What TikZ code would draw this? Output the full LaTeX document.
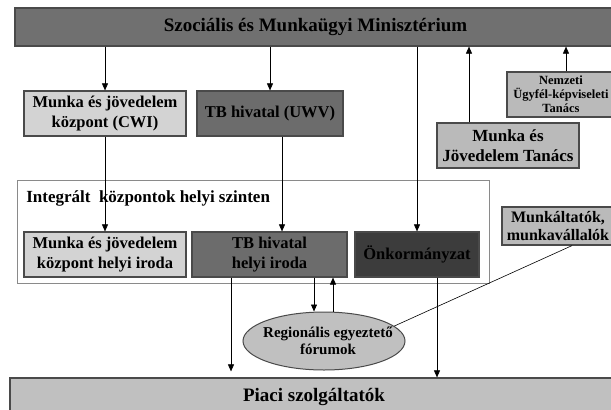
\documentclass[tikz,border=0pt]{standalone}
\usepackage{fontspec}
\setmainfont{Liberation Serif}
\usetikzlibrary{positioning,calc,arrows.meta,shapes.geometric}

\definecolor{boxline}{HTML}{4A4A4A}
\definecolor{outline}{HTML}{8A8A8A}
\definecolor{minfill}{HTML}{707070}
\definecolor{lightfill}{HTML}{D3D3D3}
\definecolor{midfill}{HTML}{6C6C6C}
\definecolor{darkfill}{HTML}{3C3C3C}
\definecolor{councilfill}{HTML}{BABABA}
\definecolor{marketfill}{HTML}{C0C0C0}

\begin{document}
\begin{tikzpicture}[x=1pt, y=-1pt, line width=0.6pt, >={Triangle[length=7pt,width=6pt]}]
	\useasboundingbox (0,0) rectangle (611,410);
	\tikzset{box/.style={draw=boxline, line width=1.2pt, align=center, inner sep=0pt, minimum height=45},
		big/.style={font=\bfseries\fontsize{16.5}{20}\selectfont}}

	% top and bottom bars
	\node[box, fill=minfill, minimum width=601, minimum height=38, font=\bfseries\fontsize{19}{22}\selectfont] (min) at (315.5,27) {Szociális és Munkaügyi Minisztérium};
	\node[box, fill=marketfill, minimum width=608, minimum height=38, font=\bfseries\fontsize{19}{22}\selectfont] (piaci) at (314,397) {Piaci szolgáltatók};

	% national level
	\node[box, big, fill=lightfill, minimum width=162] (cwi) at (105,113.5) {Munka és jövedelem\\központ (CWI)};
	\node[box, big, fill=midfill, minimum width=146] (uwv) at (270,113.5) {TB hivatal (UWV)};
	\node[box, fill=councilfill, minimum width=108, font=\bfseries\fontsize{12.5}{14}\selectfont] (nemz) at (561,94.5) {Nemzeti\\Ügyfél-képviseleti\\Tanács};
	\node[box, fill=councilfill, minimum width=142, font=\bfseries\fontsize{17}{20}\selectfont] (mjt) at (508,145.5) {Munka és\\Jövedelem Tanács};

	% local level
	\node[draw=outline, line width=1pt, minimum width=472, minimum height=103, inner sep=0pt] (integ) at (253,231.5) {};
	\node[anchor=base west, inner sep=0pt, font=\bfseries\fontsize{17}{20}\selectfont] (integtitle) at (26,202) {Integrált\ \ központok helyi szinten};
	\node[box, big, fill=lightfill, minimum width=162] (cwil) at (105,254.5) {Munka és jövedelem\\központ helyi iroda};
	\node[box, big, fill=midfill, minimum width=155] (tbl) at (269.5,254.5) {TB hivatal\\helyi iroda};
	\node[box, big, fill=darkfill, minimum width=124] (onk) at (417,254.5) {Önkormányzat};
	\node[box, fill=councilfill, minimum width=112, minimum height=38, font=\bfseries\fontsize{16}{18}\selectfont] (munk) at (558,226) {Munkáltatók,\\munkavállalók};

	% regional forum
	\node[ellipse, draw=boxline, line width=1pt, fill=marketfill, minimum width=162, minimum height=58] (reg) at (324,341) {};
	\node[align=center, inner sep=0pt, font=\bfseries\fontsize{15}{17}\selectfont] (regtext) at ([xshift=4pt]reg.center) {Regionális egyeztető\\fórumok};

	% connections
	\draw[->] (cwi.north |- min.south) -- (cwi.north);
	\draw[->] (uwv.north |- min.south) -- (uwv.north);
	\draw[->] (onk.north |- min.south) -- (onk.north);
	\draw[->] ([xshift=-39pt]mjt.north) -- ([xshift=-39pt]mjt.north |- min.south);
	\draw[->] ([xshift=5pt]nemz.north) -- ([xshift=5pt]nemz.north |- min.south);
	\draw[->] (cwi.south) -- (cwil.north);
	\draw[->] ([xshift=12pt]uwv.south) -- ([xshift=12pt]uwv.south |- tbl.north);
	\draw[->, shorten >=6pt] ([xshift=-38.5pt]tbl.south) -- ([xshift=-38.5pt]tbl.south |- piaci.north);
	\draw[->] ([xshift=44.5pt]tbl.south) -- ([xshift=-10pt]reg.north);
	\draw[->] ([xshift=9pt]reg.north) -- ([xshift=9pt]reg.north |- tbl.south);
	\draw[->] ([xshift=20pt]onk.south) -- ([xshift=20pt]onk.south |- piaci.north);
	\draw ([xshift=14pt]munk.south) -- (reg.12);
\end{tikzpicture}
\end{document}
